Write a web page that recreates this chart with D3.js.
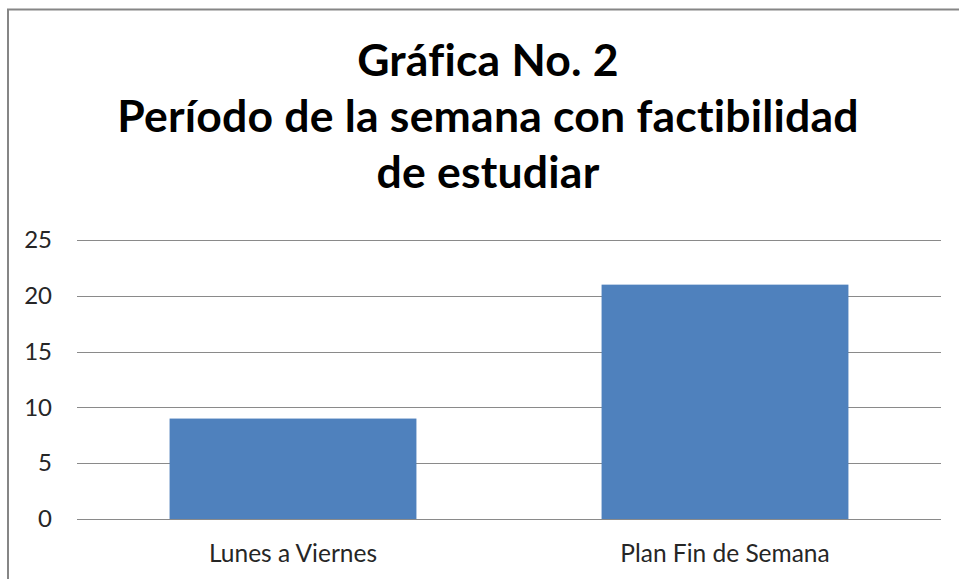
<!DOCTYPE html>
<html>
<head>
<meta charset="utf-8">
<script src="https://cdn.jsdelivr.net/npm/d3@7"></script>
<style>
  html, body { margin: 0; padding: 0; background: #fff; }
  svg { display: block; }
  text { font-variant-ligatures: none; font-feature-settings: "liga" 0, "clig" 0; }
</style>
</head>
<body>
<svg id="chart" width="959" height="579"></svg>
<script>
// ---- data ----
const titleLines = ["Gráfica No. 2", "Período de la semana con factibilidad", "de estudiar"];
const categories = ["Lunes a Viernes", "Plan Fin de Semana"];
const values = [9, 21];
const yTicks = [0, 5, 10, 15, 20, 25];

// ---- layout ----
const W = 959, H = 579;
const plot = { left: 77, right: 941, top: 240, bottom: 519 };
const svg = d3.select("#chart");

// chart border
svg.append("rect")
  .attr("x", 8).attr("y", 9.5)
  .attr("width", W + 10).attr("height", H + 10)
  .attr("fill", "#fff")
  .attr("stroke", "#868686").attr("stroke-width", 2);

// scales
const x = d3.scaleBand()
  .domain(categories)
  .range([plot.left, plot.right])
  .paddingInner(0.75 / 1.75)
  .paddingOuter(0.375 / 1.75);
const y = d3.scaleLinear().domain([0, 25]).range([plot.bottom, plot.top]);

// gridlines
svg.append("g").selectAll("line")
  .data(yTicks)
  .join("line")
  .attr("x1", plot.left).attr("x2", plot.right)
  .attr("y1", d => Math.round(y(d)) + 0.5).attr("y2", d => Math.round(y(d)) + 0.5)
  .attr("stroke", "#8a8a8a").attr("stroke-width", 1);

// bars
svg.append("g").selectAll("rect")
  .data(values)
  .join("rect")
  .attr("x", (d, i) => x(categories[i]))
  .attr("width", x.bandwidth())
  .attr("y", d => y(d))
  .attr("height", d => y(0) - y(d))
  .attr("fill", "#4F81BD");

// baseline (category axis line) on top
svg.append("line")
  .attr("x1", plot.left).attr("x2", plot.right)
  .attr("y1", Math.round(y(0)) + 0.5).attr("y2", Math.round(y(0)) + 0.5)
  .attr("stroke", "#8a8a8a").attr("stroke-width", 1);

// y axis labels
const yAxis = svg.append("g")
  .attr("transform", `translate(${plot.left},0)`)
  .call(d3.axisLeft(y).tickValues(yTicks).tickSize(0).tickPadding(25));
yAxis.select(".domain").remove();
yAxis.selectAll("text")
  .attr("font-family", "Lato, 'Open Sans', sans-serif")
  .attr("font-size", 24)
  .attr("fill", "#262626");

// x axis labels
const xAxis = svg.append("g")
  .attr("transform", `translate(0,${plot.bottom})`)
  .call(d3.axisBottom(x).tickSize(0).tickPadding(26));
xAxis.select(".domain").remove();
xAxis.selectAll("text")
  .attr("font-family", "Lato, 'Open Sans', sans-serif")
  .attr("font-size", 24.5)
  .attr("fill", "#262626");

// title
const titleBaselines = [76, 132, 188];
const title = svg.append("g")
  .selectAll("text")
  .data(titleLines)
  .join("text")
  .attr("x", 488)
  .attr("y", (d, i) => titleBaselines[i])
  .attr("text-anchor", "middle")
  .attr("font-family", "Lato, 'Open Sans', sans-serif")
  .attr("font-weight", "bold")
  .attr("font-size", 38)
  .attr("letter-spacing", "0.2px")
  .style("font-variant-ligatures", "none")
  .attr("fill", "#000")
  .text(d => d);

// fit title size to reference width of longest line
const longest = title.filter((d, i) => i === 1).node();
const len = longest.getComputedTextLength();
const fitted = 38 * 743 / len;
title.attr("font-size", fitted);
</script>
</body>
</html>
